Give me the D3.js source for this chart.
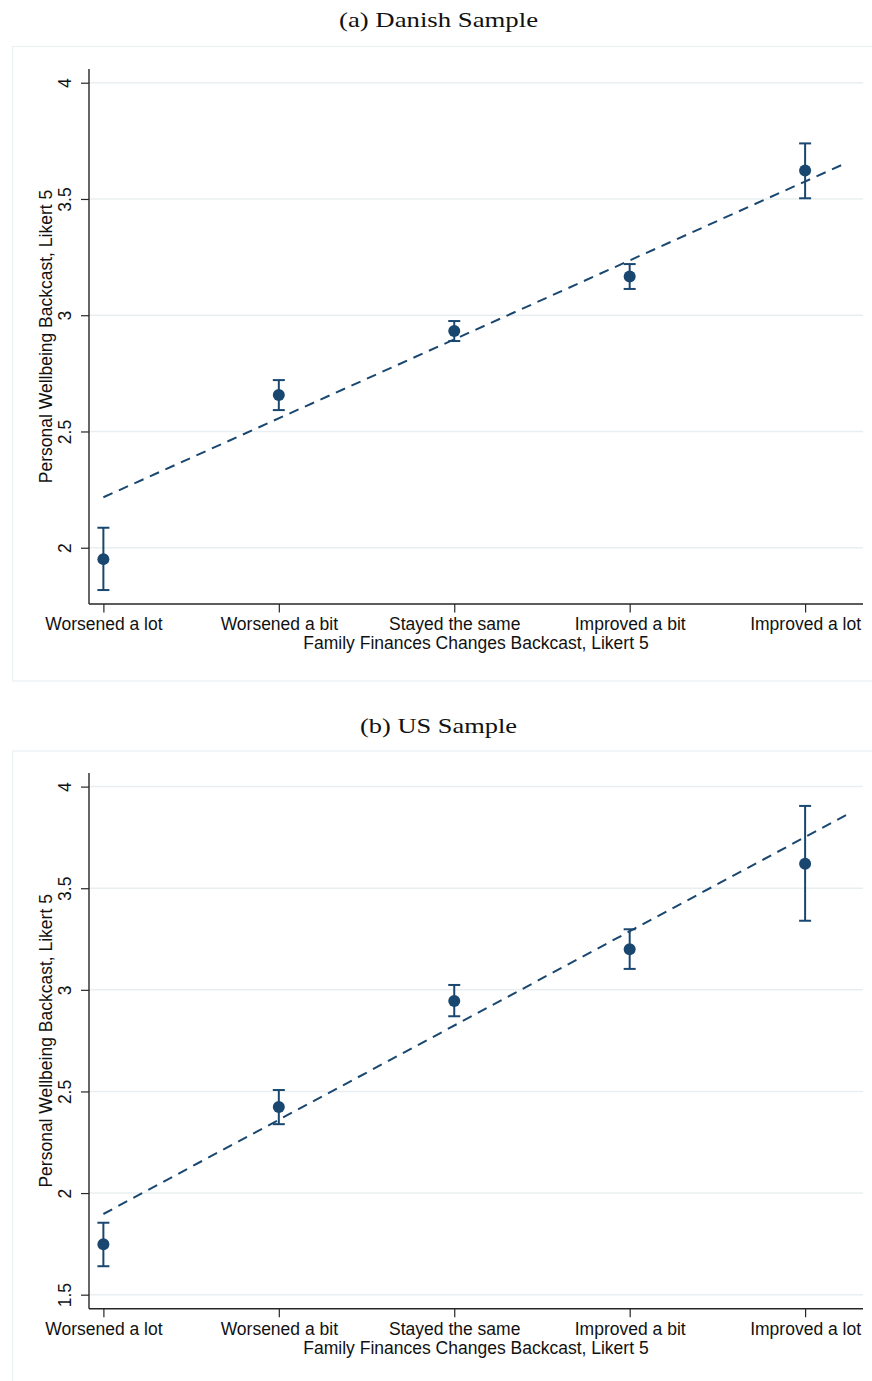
<!DOCTYPE html>
<html>
<head>
<meta charset="utf-8">
<script src="https://cdn.jsdelivr.net/npm/d3@7"></script>
<style>
  html, body { margin: 0; padding: 0; background: #fff; }
  svg { display: block; }
  text { font-family: "Liberation Sans", Arial, Helvetica, sans-serif; fill: #111; }
  .ttl { font-family: "Liberation Serif", "Times New Roman", serif; }
</style>
</head>
<body>
<svg id="chart" width="872" height="1381"></svg>
<script>
// ---- data ----
const categories = ["Worsened a lot", "Worsened a bit", "Stayed the same", "Improved a bit", "Improved a lot"];
const catCodes = [1, 2, 3, 4, 5];

// Panel (a) Danish sample
const dkMean  = [1.951, 2.657, 2.932, 3.167, 3.622];
const dkLower = [1.818, 2.592, 2.889, 3.113, 3.503];
const dkUpper = [2.086, 2.721, 2.975, 3.220, 3.739];
const dkFitX  = [1, 5.223];
const dkFitY  = [2.217, 3.651];
const dkTicks = [2, 2.5, 3, 3.5, 4];

// Panel (b) US sample
const usMean  = [1.748, 2.424, 2.945, 3.200, 3.621];
const usLower = [1.640, 2.339, 2.870, 3.103, 3.340];
const usUpper = [1.854, 2.507, 3.024, 3.298, 3.905];
const usFitX  = [1, 5.253];
const usFitY  = [1.897, 3.869];
const usTicks = [1.5, 2, 2.5, 3, 3.5, 4];

const titles = ["(a) Danish Sample", "(b) US Sample"];
const xTitle = "Family Finances Changes Backcast, Likert 5";
const yTitle = "Personal Wellbeing Backcast, Likert 5";

// ---- drawing ----
const svg = d3.select("#chart");
const navy = "#1a476f";
const gridCol = "#e9eff1";
const boxCol = "#eaf1f3";
const axisCol = "#262626";

const panels = [
  { title: titles[0], titleY: 27, box: [12.5, 46.5, 900, 634.5],
    top: 69, bottom: 604, yDom: [1.758, 4.059], ticks: dkTicks,
    mean: dkMean, lo: dkLower, hi: dkUpper, fx: dkFitX, fy: dkFitY },
  { title: titles[1], titleY: 733, box: [12.5, 751, 900, 700],
    top: 773, bottom: 1308.7, yDom: [1.431, 4.067], ticks: usTicks,
    mean: usMean, lo: usLower, hi: usUpper, fx: usFitX, fy: usFitY }
];

const left = 89, right = 863;
const x = d3.scaleLinear().domain([0.918, 5.33]).range([left, right]);

panels.forEach(p => {
  const g = svg.append("g");
  // title
  g.append("text").attr("class", "ttl")
    .attr("x", 438.5).attr("y", p.titleY)
    .attr("text-anchor", "middle")
    .style("font-size", "22px")
    .attr("textLength", p.title.length > 14 ? 199 : 157)
    .attr("lengthAdjust", "spacingAndGlyphs")
    .text(p.title);
  // outer box
  g.append("rect")
    .attr("x", p.box[0]).attr("y", p.box[1])
    .attr("width", p.box[2]).attr("height", p.box[3])
    .attr("fill", "none").attr("stroke", boxCol).attr("stroke-width", 1.2);

  const y = d3.scaleLinear().domain(p.yDom).range([p.bottom, p.top]);

  // gridlines
  g.append("g").selectAll("line").data(p.ticks).join("line")
    .attr("x1", left).attr("x2", right)
    .attr("y1", d => y(d)).attr("y2", d => y(d))
    .attr("stroke", gridCol).attr("stroke-width", 1.5);

  // y axis
  const ya = g.append("g").attr("transform", `translate(${left},0)`)
    .call(d3.axisLeft(y).tickValues(p.ticks).tickSize(8).tickPadding(10)
      .tickFormat(d3.format("")));
  ya.select(".domain").attr("stroke", axisCol).attr("stroke-width", 1.4)
    .attr("d", `M0,${p.top}V${p.bottom}`);
  ya.selectAll(".tick line").attr("stroke", axisCol).attr("stroke-width", 1.2);
  ya.selectAll(".tick text")
    .attr("x", null).attr("dy", null)
    .attr("transform", "translate(-18.5,0) rotate(-90)")
    .attr("text-anchor", "middle")
    .style("font-size", "17.5px").style("font-family", "Liberation Sans, Arial, sans-serif")
    .attr("fill", "#111");

  // x axis
  const xa = g.append("g").attr("transform", `translate(0,${p.bottom})`)
    .call(d3.axisBottom(x).tickValues(catCodes).tickSize(8.5).tickPadding(5)
      .tickFormat((d, i) => categories[i]));
  xa.select(".domain").attr("stroke", axisCol).attr("stroke-width", 1.4)
    .attr("d", `M${left},0H${right}`);
  xa.selectAll(".tick line").attr("stroke", axisCol).attr("stroke-width", 1.2);
  xa.selectAll(".tick text")
    .attr("y", 26).attr("dy", null)
    .style("font-size", "17.5px").style("font-family", "Liberation Sans, Arial, sans-serif")
    .attr("fill", "#111");

  // axis titles
  g.append("text").attr("x", (left + right) / 2).attr("y", p.bottom + 45)
    .attr("text-anchor", "middle").style("font-size", "17.5px").text(xTitle);
  g.append("text")
    .attr("transform", `translate(52,${(p.top + p.bottom) / 2}) rotate(-90)`)
    .attr("text-anchor", "middle").style("font-size", "17.5px").text(yTitle);

  // fitted line
  const fit = p.fx.map((v, i) => [v, p.fy[i]]);
  g.append("path").datum(fit)
    .attr("d", d3.line().x(d => x(d[0])).y(d => y(d[1])))
    .attr("fill", "none").attr("stroke", navy).attr("stroke-width", 2)
    .attr("stroke-dasharray", "10,7");

  // error bars
  const eb = g.append("g").attr("stroke", navy).attr("stroke-width", 2).attr("fill", "none");
  catCodes.forEach((c, i) => {
    eb.append("line").attr("x1", x(c)).attr("x2", x(c))
      .attr("y1", y(p.lo[i])).attr("y2", y(p.hi[i]));
    eb.append("line").attr("x1", x(c) - 6).attr("x2", x(c) + 6)
      .attr("y1", y(p.lo[i])).attr("y2", y(p.lo[i]));
    eb.append("line").attr("x1", x(c) - 6).attr("x2", x(c) + 6)
      .attr("y1", y(p.hi[i])).attr("y2", y(p.hi[i]));
  });

  // points
  g.append("g").selectAll("circle").data(p.mean).join("circle")
    .attr("cx", (d, i) => x(catCodes[i])).attr("cy", d => y(d))
    .attr("r", 6).attr("fill", navy);
});
</script>
</body>
</html>
